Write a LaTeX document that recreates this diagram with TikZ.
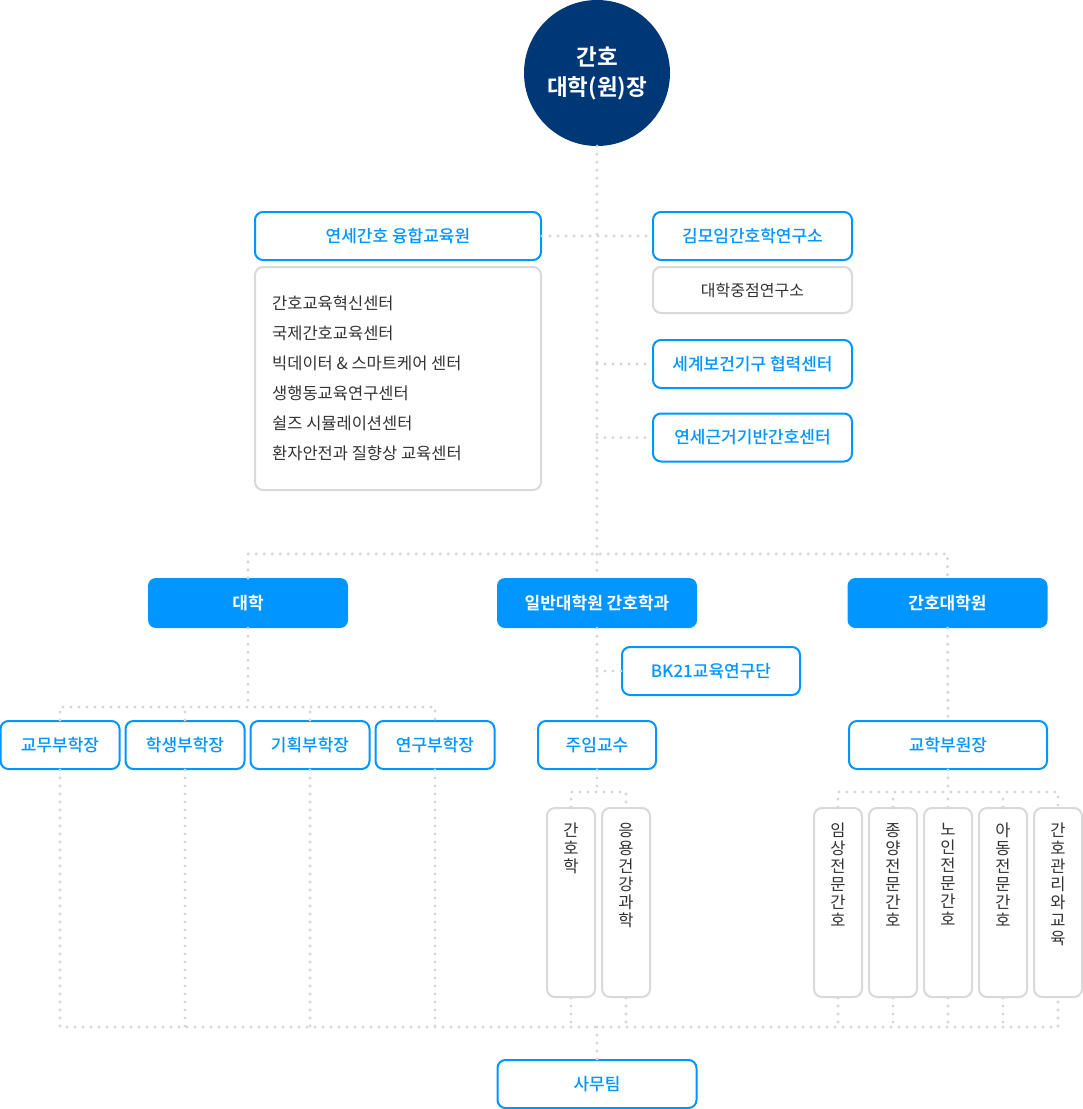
\documentclass[tikz,border=0pt]{standalone}
\usepackage{fontspec}
\setmainfont{Noto Sans CJK KR}
\newfontfamily\medfont{Noto Sans CJK KR Medium}
\newfontfamily\boldfont{Noto Sans CJK KR Bold}
\definecolor{cblue}{HTML}{0095FF}
\definecolor{navy}{HTML}{003876}
\definecolor{lgray}{HTML}{D9D9D9}
\definecolor{dotgray}{HTML}{D6D6D6}
\definecolor{tgray}{HTML}{333333}
\begin{document}
\begin{tikzpicture}[x=1pt,y=-1pt,
  dots/.style={draw=dotgray,line width=3.4pt,line cap=round,dash pattern=on 0pt off 8pt},
  obox/.style={draw=cblue,line width=2pt,rounded corners=8pt,fill=white,text=cblue,font=\medfont\fontsize{17}{20}\selectfont,inner sep=0pt,minimum height=48pt},
  fbox/.style={fill=cblue,rounded corners=8pt,text=white,font=\boldfont\fontsize{17}{20}\selectfont,inner sep=0pt,minimum height=50pt,minimum width=200pt},
  gbox/.style={draw=lgray,line width=2pt,rounded corners=8pt,fill=white,inner sep=0pt},
  gtext/.style={text=tgray,font=\fontsize{16.5}{19}\selectfont,inner sep=0pt},
  vtext/.style={text=tgray,font=\fontsize{16.5}{18}\selectfont,inner sep=0pt,align=center,anchor=north},
]
\useasboundingbox (0,0) rectangle (1083,1109);

% top
\node[circle,fill=navy,minimum size=146pt,inner sep=0pt,text=white,align=center,font=\boldfont\fontsize{22.5}{30}\selectfont] (top) at (597,73) {간호\\대학(원)장};

% upper block
\node[obox,minimum width=286pt] (yh) at (398,236) {연세간호 융합교육원};
\node[gbox,minimum width=286pt,minimum height=223pt] (yhl) at (398,378.5) {};
\node[gtext,anchor=west] (l1) at (272,303) {간호교육혁신센터};
\node[gtext,anchor=west] (l2) at (272,333) {국제간호교육센터};
\node[gtext,anchor=west] (l3) at (272,363) {빅데이터 \& 스마트케어 센터};
\node[gtext,anchor=west] (l4) at (272,393) {생행동교육연구센터};
\node[gtext,anchor=west] (l5) at (272,423) {쉴즈 시뮬레이션센터};
\node[gtext,anchor=west] (l6) at (272,453) {환자안전과 질향상 교육센터};

\node[obox,minimum width=199pt] (kim) at (752.5,236) {김모임간호학연구소};
\node[gbox,minimum width=199pt,minimum height=46pt,text=tgray,font=\fontsize{16}{19}\selectfont] (jj) at (752.5,290) {대학중점연구소};
\node[obox,minimum width=199pt] (who) at (752.5,364) {세계보건기구 협력센터};
\node[obox,minimum width=199pt] (ebn) at (752.5,437.5) {연세근거기반간호센터};

% main divisions
\node[fbox] (univ) at (248,603) {대학};
\node[fbox] (grad) at (597,603) {일반대학원 간호학과};
\node[fbox] (nurs) at (947.5,603) {간호대학원};

% vice deans
\node[obox,minimum width=119pt] (d1) at (60,745) {교무부학장};
\node[obox,minimum width=119pt] (d2) at (185,745) {학생부학장};
\node[obox,minimum width=119pt] (d3) at (310,745) {기획부학장};
\node[obox,minimum width=119pt] (d4) at (435,745) {연구부학장};

\node[obox,minimum width=178pt] (bk) at (711,671) {BK21교육연구단};
\node[obox,minimum width=118pt] (prof) at (597,745) {주임교수};
\node[obox,minimum width=198pt] (vice) at (948,745) {교학부원장};

% majors
\node[gbox,minimum width=48pt,minimum height=189pt] (m1) at (571,902.5) {};
\node[gbox,minimum width=48pt,minimum height=189pt] (m2) at (626,902.5) {};
\node[gbox,minimum width=48pt,minimum height=189pt] (s1) at (838,902.5) {};
\node[gbox,minimum width=48pt,minimum height=189pt] (s2) at (893,902.5) {};
\node[gbox,minimum width=48pt,minimum height=189pt] (s3) at (948,902.5) {};
\node[gbox,minimum width=48pt,minimum height=189pt] (s4) at (1003,902.5) {};
\node[gbox,minimum width=48pt,minimum height=189pt] (s5) at (1058,902.5) {};
\node[vtext] (m1t) at (571,823) {간\\호\\학};
\node[vtext] (m2t) at (626,823) {응\\용\\건\\강\\과\\학};
\node[vtext] (s1t) at (838,823) {임\\상\\전\\문\\간\\호};
\node[vtext] (s2t) at (893,823) {종\\양\\전\\문\\간\\호};
\node[vtext] (s3t) at (948,823) {노\\인\\전\\문\\간\\호};
\node[vtext] (s4t) at (1003,823) {아\\동\\전\\문\\간\\호};
\node[vtext] (s5t) at (1058,823) {간\\호\\관\\리\\와\\교\\육};

\node[obox,minimum width=199pt] (office) at (597,1084) {사무팀};

% connectors
\coordinate (hy) at (597,554);
\coordinate (ry) at (0,707);
\coordinate (ly) at (0,792);
\coordinate (by) at (0,1027);

\draw[dots] (top.south) -- (grad.north);
\draw[dots] (yh.east) -- (kim.west);
\draw[dots] (who.west -| top.south) -- (who.west);
\draw[dots] (ebn.west -| top.south) -- (ebn.west);
\draw[dots] (univ.north) -- (univ.north |- hy) -- (nurs.north |- hy) -- (nurs.north);

\draw[dots] (univ.south) -- (univ.south |- ry);
\draw[dots] (d1.north) -- (d1.north |- ry) -- (d4.north |- ry) -- (d4.north);
\draw[dots] (d2.north) -- (d2.north |- ry);
\draw[dots] (d3.north) -- (d3.north |- ry);

\draw[dots] (bk.west -| grad.south) -- (bk.west);
\draw[dots] (grad.south) -- (prof.north);
\draw[dots] (nurs.south) -- (vice.north);

\draw[dots] (prof.south) -- (prof.south |- ly);
\draw[dots] (m1.north) -- (m1.north |- ly) -- (m2.north |- ly) -- (m2.north);
\draw[dots] (vice.south) -- (vice.south |- ly);
\draw[dots] (s1.north) -- (s1.north |- ly) -- (s5.north |- ly) -- (s5.north);
\draw[dots] (s2.north) -- (s2.north |- ly);
\draw[dots] (s3.north) -- (s3.north |- ly);
\draw[dots] (s4.north) -- (s4.north |- ly);

\draw[dots] (d1.south) -- (d1.south |- by) -- (s5.south |- by) -- (s5.south);
\foreach \n in {d2,d3,d4,m1,m2,s1,s2,s3,s4}{
  \draw[dots] (\n.south) -- (\n.south |- by);
}
\draw[dots] (office.north |- by) -- (office.north);
\end{tikzpicture}
\end{document}
